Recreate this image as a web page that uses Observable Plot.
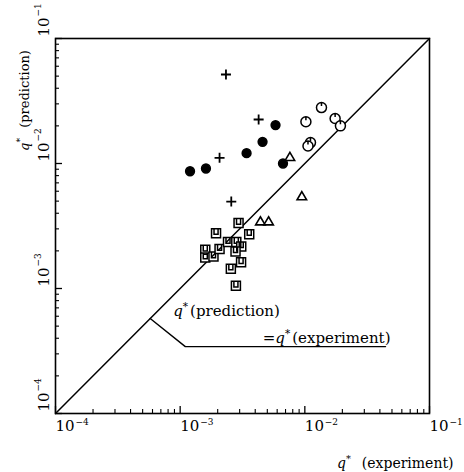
<!DOCTYPE html>
<html><head><meta charset="utf-8">
<script src="https://cdn.jsdelivr.net/npm/d3@7"></script>
<script src="https://cdn.jsdelivr.net/npm/@observablehq/plot@0.6"></script>
<style>body{margin:0;background:#fff}</style>
</head><body><div id="chart"></div>
<script>
// ---- data (q* experiment, q* prediction) ----
const plusX = [2.33e-3, 4.26e-3, 2.07e-3, 2.57e-3];
const plusY = [5.15e-2, 2.25e-2, 1.11e-2, 4.96e-3];
const filledX = [1.20e-3, 1.61e-3, 3.41e-3, 4.58e-3, 5.82e-3, 6.68e-3];
const filledY = [8.67e-3, 9.12e-3, 1.21e-2, 1.49e-2, 2.03e-2, 1.00e-2];
const openX = [1.02e-2, 1.36e-2, 1.75e-2, 1.93e-2, 1.11e-2, 1.06e-2];
const openY = [2.16e-2, 2.80e-2, 2.29e-2, 2.00e-2, 1.47e-2, 1.38e-2];
const triX = [7.59e-3, 9.46e-3, 4.40e-3, 5.12e-3];
const triY = [1.12e-2, 5.43e-3, 3.42e-3, 3.42e-3];
const sqX = [2.94e-3, 1.94e-3, 3.58e-3, 1.59e-3, 1.59e-3, 1.85e-3, 2.07e-3, 2.42e-3, 2.82e-3, 3.09e-3, 2.78e-3, 3.08e-3, 2.55e-3, 2.80e-3];
const sqY = [3.34e-3, 2.77e-3, 2.72e-3, 2.04e-3, 1.77e-3, 1.80e-3, 2.07e-3, 2.35e-3, 2.35e-3, 2.17e-3, 1.98e-3, 1.62e-3, 1.44e-3, 1.05e-3];
const identity = [1e-4, 1e-1];
const majorTicks = [1e-4, 1e-3, 1e-2, 1e-1];
const tickBase = ["10", "10", "10", "10"];
const tickExp = ["−4", "−3", "−2", "−1"];
const minorTicks = [2e-4,3e-4,4e-4,5e-4,6e-4,7e-4,8e-4,9e-4,2e-3,3e-3,4e-3,5e-3,6e-3,7e-3,8e-3,9e-3,2e-2,3e-2,4e-2,5e-2,6e-2,7e-2,8e-2,9e-2];
const leaderX = [5.75e-4, 1.10e-3, 4.44e-2];
const leaderY = [5.75e-4, 3.43e-4, 3.43e-4];
const noteText = ["q*(prediction)", "=q*(experiment)"];
const noteX = [8.8e-4, 4.6e-3];
const noteY = [6.0e-4, 3.65e-4];
const xTitle = "q*  (experiment)";
const yTitle = "q*  (prediction)";

const pts = (xs, ys) => xs.map((x, i) => ({x, y: ys[i]}));

// ---- symbols ----
const notchCircle = {draw(ctx, size){const r=Math.sqrt(size/Math.PI); ctx.moveTo(r,0); ctx.arc(0,0,r,0,2*Math.PI); ctx.moveTo(0,-r); ctx.lineTo(0,-r*0.3);}};
const notchSquare = {draw(ctx, size){const s=Math.sqrt(size/Math.PI); ctx.moveTo(-s,-s); ctx.lineTo(s,-s); ctx.lineTo(s,s); ctx.lineTo(-s,s); ctx.closePath(); ctx.moveTo(-s*0.45,-s); ctx.lineTo(-s*0.45,s*0.25); ctx.lineTo(s*0.45,s*0.25); ctx.lineTo(s*0.45,-s);}};
const plusSym = {draw(ctx, size){const r=Math.sqrt(size/Math.PI); ctx.moveTo(-r,0); ctx.lineTo(r,0); ctx.moveTo(0,-r); ctx.lineTo(0,r);}};
const triSym = {draw(ctx, size){const r=Math.sqrt(size/Math.PI); ctx.moveTo(0,-r); ctx.lineTo(r*0.95,r*0.62); ctx.lineTo(-r*0.95,r*0.62); ctx.closePath();}};

const W = 464, H = 472, mL = 55, mR = 35, mT = 38, mB = 59;
const iw = W - mL - mR, ih = H - mT - mB;

const chart = Plot.plot({
  width: W, height: H,
  marginLeft: mL, marginRight: mR, marginTop: mT, marginBottom: mB,
  x: {type: "log", domain: [1e-4, 1e-1], axis: null},
  y: {type: "log", domain: [1e-4, 1e-1], axis: null},
  style: {fontFamily: "'DejaVu Serif', 'Liberation Serif', serif", background: "white", color: "black"},
  marks: [
    Plot.frame({stroke: "black", strokeWidth: 1.6}),
    Plot.tickX(majorTicks, {x: d => d, insetTop: ih - 7, stroke: "black", strokeWidth: 1.3}),
    Plot.tickX(minorTicks, {x: d => d, insetTop: ih - 4, stroke: "black", strokeWidth: 1.1}),
    Plot.tickY(majorTicks, {y: d => d, insetRight: iw - 7, stroke: "black", strokeWidth: 1.3}),
    Plot.tickY(minorTicks, {y: d => d, insetRight: iw - 4, stroke: "black", strokeWidth: 1.1}),
    // x tick labels
    Plot.text(majorTicks, {x: d => d, frameAnchor: "bottom", text: (d, i) => tickBase[i], textAnchor: "start", lineAnchor: "top", dx: 0, dy: 7, fontSize: 15}),
    Plot.text(majorTicks, {x: d => d, frameAnchor: "bottom", text: (d, i) => tickExp[i], textAnchor: "start", lineAnchor: "top", dx: 20, dy: 5, fontSize: 9}),
    // y tick labels
    Plot.text(majorTicks, {y: d => d, frameAnchor: "left", text: (d, i) => tickBase[i], rotate: -90, textAnchor: "start", lineAnchor: "bottom", dx: -7, dy: -2, fontSize: 15}),
    Plot.text(majorTicks, {y: d => d, frameAnchor: "left", text: (d, i) => tickExp[i], rotate: -90, textAnchor: "start", lineAnchor: "bottom", dx: -15, dy: -22, fontSize: 9}),
    // identity line and leader
    Plot.line(identity.map(v => ({x: v, y: v})), {x: "x", y: "y", stroke: "black", strokeWidth: 1.5}),
    Plot.line(pts(leaderX, leaderY), {x: "x", y: "y", stroke: "black", strokeWidth: 1.4}),
    Plot.text(pts(noteX, noteY).map((p, i) => ({...p, t: noteText[i]})), {x: "x", y: "y", text: "t", textAnchor: "start", lineAnchor: "bottom", fontSize: 15}),
    // data
    Plot.dot(pts(filledX, filledY), {x: "x", y: "y", r: 4.4, fill: "black", stroke: "black"}),
    Plot.dot(pts(plusX, plusY), {x: "x", y: "y", r: 5, symbol: plusSym, stroke: "black", strokeWidth: 1.8, fill: "none"}),
    Plot.dot(pts(openX, openY), {x: "x", y: "y", r: 5, symbol: notchCircle, stroke: "black", strokeWidth: 1.5, fill: "white"}),
    Plot.dot(pts(triX, triY), {x: "x", y: "y", r: 5, symbol: triSym, stroke: "black", strokeWidth: 1.6, fill: "white"}),
    Plot.dot(pts(sqX, sqY), {x: "x", y: "y", r: 4.5, symbol: notchSquare, stroke: "black", strokeWidth: 1.5, fill: "white"}),
    // titles
    Plot.text([xTitle], {frameAnchor: "bottom-right", text: d => d, textAnchor: "end", lineAnchor: "bottom", dx: 24, dy: 54, fontSize: 14}),
    Plot.text([yTitle], {frameAnchor: "top-left", text: d => d, rotate: -90, textAnchor: "middle", lineAnchor: "bottom", dx: -27, dy: 62, fontSize: 13})
  ]
});

// italic q and raised asterisk
d3.select(chart).selectAll("text").filter(function(){ return this.textContent.includes("q*"); }).each(function(){
  const t = this.textContent, i = t.indexOf("q*");
  const sel = d3.select(this); sel.text(null);
  if (i > 0) sel.append("tspan").text(t.slice(0, i));
  sel.append("tspan").attr("font-style", "italic").text("q");
  sel.append("tspan").attr("dy", -6).attr("font-size", "0.7em").text("*");
  sel.append("tspan").attr("dy", 6).attr("dx", 2).text(t.slice(i + 2));
});
document.getElementById("chart").appendChild(chart);
</script>
</body></html>
